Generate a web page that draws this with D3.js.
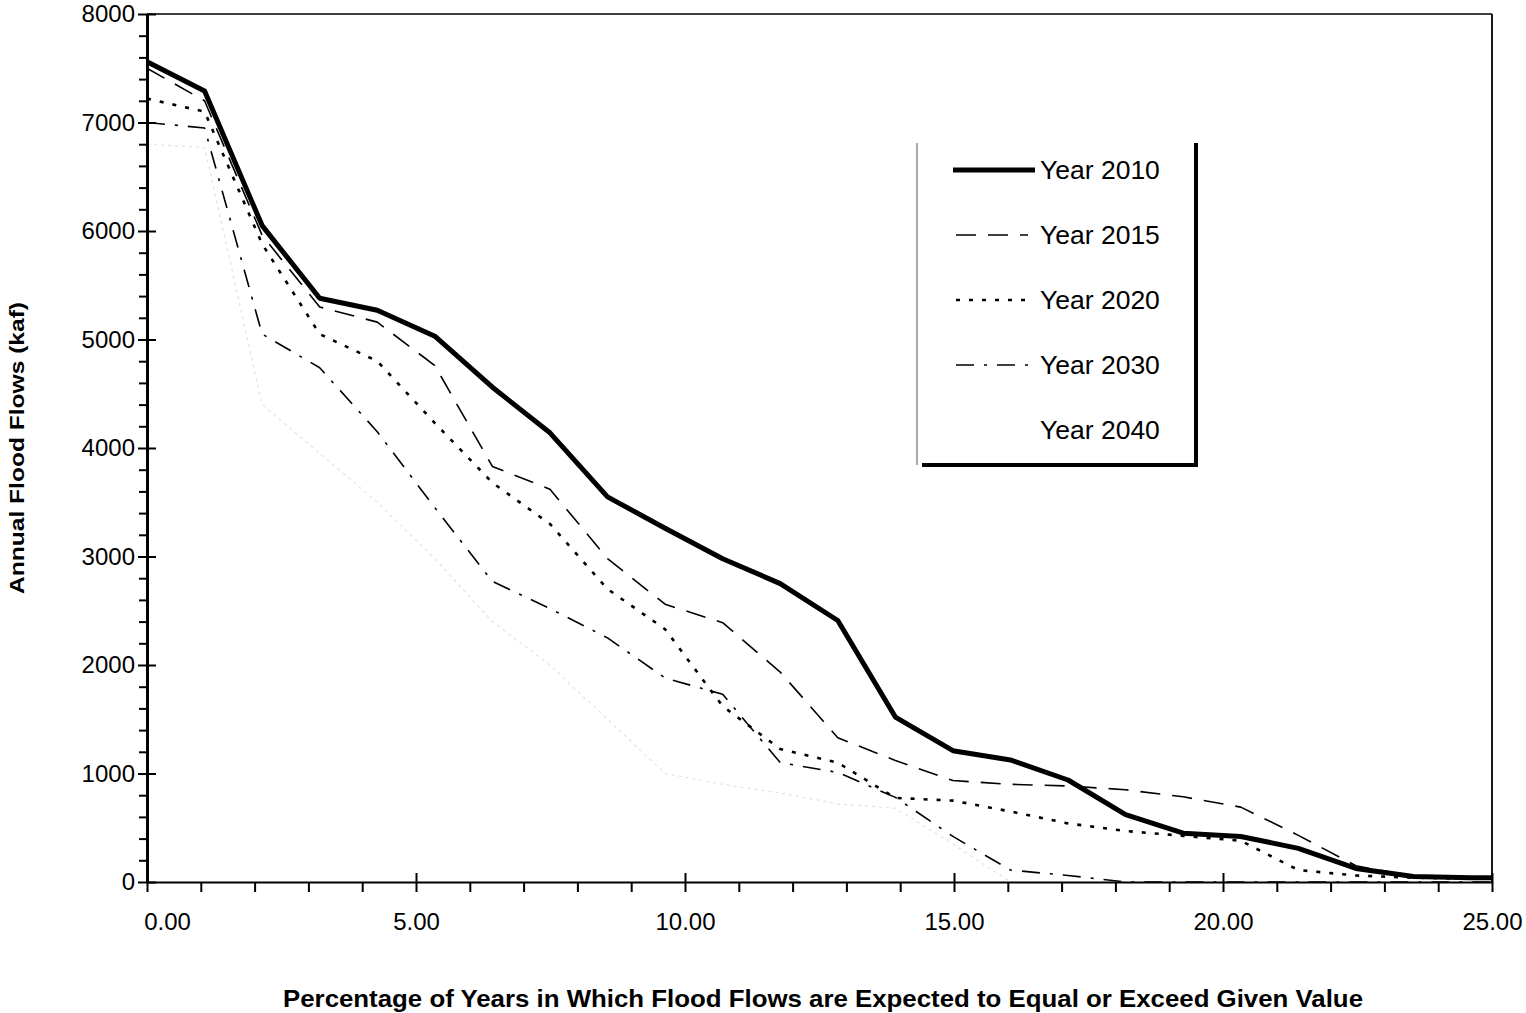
<!DOCTYPE html>
<html>
<head>
<meta charset="utf-8">
<script src="https://cdn.jsdelivr.net/npm/d3@7"></script>
<style>
  html, body { margin: 0; padding: 0; background: #fff; }
  svg { display: block; }
  text { font-family: "Liberation Sans", Arial, sans-serif; fill: #000; }
</style>
</head>
<body>
<svg id="chart" width="1526" height="1013"></svg>
<script>
// ---- Data ----
const percentExceed = [0.00, 1.07, 2.14, 3.21, 4.28, 5.35, 6.42, 7.49, 8.56, 9.63, 10.70, 11.77,
                       12.84, 13.91, 14.98, 16.05, 17.12, 18.19, 19.26, 20.33, 21.40, 22.47, 23.54, 24.61, 25.00];
const year2010 = [7560, 7290, 6050, 5380, 5270, 5030, 4560, 4140, 3550, 3260, 2980, 2750,
                  2410, 1520, 1210, 1125, 940, 620, 450, 420, 310, 125, 50, 40, 40];
const year2015 = [7500, 7200, 5960, 5300, 5160, 4760, 3830, 3620, 2980, 2560, 2390, 1935,
                  1330, 1120, 935, 900, 885, 850, 785, 690, 430, 150, 50, 40, 40];
const year2020 = [7220, 7100, 5880, 5050, 4800, 4230, 3680, 3300, 2700, 2330, 1620, 1226,
                  1100, 775, 750, 650, 540, 470, 425, 380, 110, 60, 40, 30, 30];
const year2030 = [7000, 6950, 5050, 4740, 4150, 3450, 2770, 2520, 2250, 1880, 1730, 1100,
                  1010, 780, 420, 110, 60, 0, 0, 0, 0, 0, 0, 0, 0];
const year2040 = [6800, 6770, 4400, 3950, 3500, 2980, 2400, 2000, 1500, 1000, 900, 820,
                  720, 680, 350, 0, 0, 0, 0, 0, 0, 0, 0, 0, 0];
const seriesNames = ["Year 2010", "Year 2015", "Year 2020", "Year 2030", "Year 2040"];
const yMajorTicks = [0, 1000, 2000, 3000, 4000, 5000, 6000, 7000, 8000];
const xMajorTicks = [0, 5, 10, 15, 20, 25];
const xTickLabels = ["0.00", "5.00", "10.00", "15.00", "20.00", "25.00"];
const yTitle = "Annual Flood Flows (kaf)";
const xTitle = "Percentage of Years in Which Flood Flows are Expected to Equal or Exceed Given Value";

// ---- Styles per series ----
const styles = [
  { color: "#000", width: 5, dash: null },
  { color: "#000", width: 1.6, dash: "20,12" },
  { color: "#000", width: 2.6, dash: "4,9" },
  { color: "#000", width: 1.6, dash: "18,10,3,10" },
  { color: "#e2e2e2", width: 1.2, dash: "3,4" }
];
const legendSampleColors = ["#000", "#000", "#000", "#000", "#ffffff"];
const seriesValues = [year2010, year2015, year2020, year2030, year2040];

const svg = d3.select("#chart");
const x = d3.scaleLinear().domain([0, 25]).range([147, 1492]);
const y = d3.scaleLinear().domain([0, 8000]).range([882, 14]);

// Frame (top and right)
svg.append("line").attr("x1", 147).attr("x2", 1492).attr("y1", 14).attr("y2", 14)
  .attr("stroke", "#000").attr("stroke-width", 1.5);
svg.append("line").attr("x1", 1492).attr("x2", 1492).attr("y1", 14).attr("y2", 882)
  .attr("stroke", "#000").attr("stroke-width", 1.8);

// Series lines
const line = d3.line().x((d, i) => x(percentExceed[i])).y(d => y(d));
const plot = svg.append("g");
seriesValues.slice().reverse().forEach((vals, ri) => {
  const k = seriesValues.length - 1 - ri;
  const s = styles[k];
  plot.append("path")
    .datum(vals)
    .attr("d", line)
    .attr("fill", "none")
    .attr("stroke", s.color)
    .attr("stroke-width", s.width)
    .attr("stroke-linejoin", "round")
    .attr("stroke-dasharray", s.dash);
});

// Y axis minor ticks
const yMinor = d3.range(0, 8001, 200).filter(v => v % 1000 !== 0);
svg.append("g").attr("transform", "translate(147,0)")
  .call(d3.axisLeft(y).tickValues(yMinor).tickSize(8).tickFormat(""))
  .call(g => g.select(".domain").remove())
  .selectAll("line").attr("stroke-width", 2);

// Y axis major
const yAxis = svg.append("g").attr("transform", "translate(147,0)")
  .call(d3.axisLeft(y).tickValues(yMajorTicks).tickSizeInner(9).tickSizeOuter(0).tickPadding(3).tickFormat(d3.format("d")));
yAxis.select(".domain").attr("stroke-width", 3);
yAxis.selectAll(".tick line").attr("x2", -9).attr("x1", 9).attr("stroke-width", 2);
yAxis.selectAll("text").style("font-size", "24px").style("font-family", "'Liberation Sans', Arial, sans-serif");

// X axis minor ticks
const xMinor = d3.range(0, 26, 1).filter(v => v % 5 !== 0);
svg.append("g").attr("transform", "translate(0,882)")
  .call(d3.axisBottom(x).tickValues(xMinor).tickSize(10).tickFormat(""))
  .call(g => g.select(".domain").remove())
  .selectAll("line").attr("stroke-width", 2);

// X axis major
const xAxis = svg.append("g").attr("transform", "translate(0,882)")
  .call(d3.axisBottom(x).tickValues(xMajorTicks).tickSizeInner(10).tickSizeOuter(0).tickPadding(21)
    .tickFormat((d, i) => xTickLabels[i]));
xAxis.select(".domain").attr("stroke-width", 2.2);
xAxis.selectAll(".tick line").attr("y1", -9).attr("y2", 10).attr("stroke-width", 2);
xAxis.selectAll("text").style("font-size", "24px").style("font-family", "'Liberation Sans', Arial, sans-serif");
xAxis.selectAll(".tick text").filter((d, i) => i === 0).attr("dx", 20);

// Axis titles
svg.append("text")
  .attr("transform", "translate(24,448) rotate(-90)")
  .attr("text-anchor", "middle")
  .attr("textLength", 292).attr("lengthAdjust", "spacingAndGlyphs")
  .style("font-size", "21px").style("font-weight", "bold")
  .text(yTitle);
svg.append("text")
  .attr("x", 823).attr("y", 1007)
  .attr("text-anchor", "middle")
  .attr("textLength", 1080).attr("lengthAdjust", "spacingAndGlyphs")
  .style("font-size", "23px").style("font-weight", "bold")
  .text(xTitle);

// Legend
const lg = svg.append("g");
lg.append("line").attr("x1", 917).attr("x2", 917).attr("y1", 143).attr("y2", 465)
  .attr("stroke", "#555").attr("stroke-width", 1);
lg.append("line").attr("x1", 1196).attr("x2", 1196).attr("y1", 143).attr("y2", 467)
  .attr("stroke", "#000").attr("stroke-width", 4);
lg.append("line").attr("x1", 922).attr("x2", 1198).attr("y1", 465).attr("y2", 465)
  .attr("stroke", "#000").attr("stroke-width", 4);
const legendY = d3.scalePoint().domain(seriesNames).range([170, 430]);
seriesNames.forEach((name, k) => {
  const s = styles[k];
  const yy = legendY(name);
  lg.append("line").attr("x1", k === 0 ? 953 : 956).attr("x2", k === 0 ? 1035 : 1028).attr("y1", yy).attr("y2", yy)
    .attr("stroke", legendSampleColors[k]).attr("stroke-width", s.width)
    .attr("stroke-dasharray", s.dash);
  lg.append("text").attr("x", 1040).attr("y", yy + 9)
    .style("font-size", "26.5px")
    .text(name);
});
</script>
</body>
</html>
